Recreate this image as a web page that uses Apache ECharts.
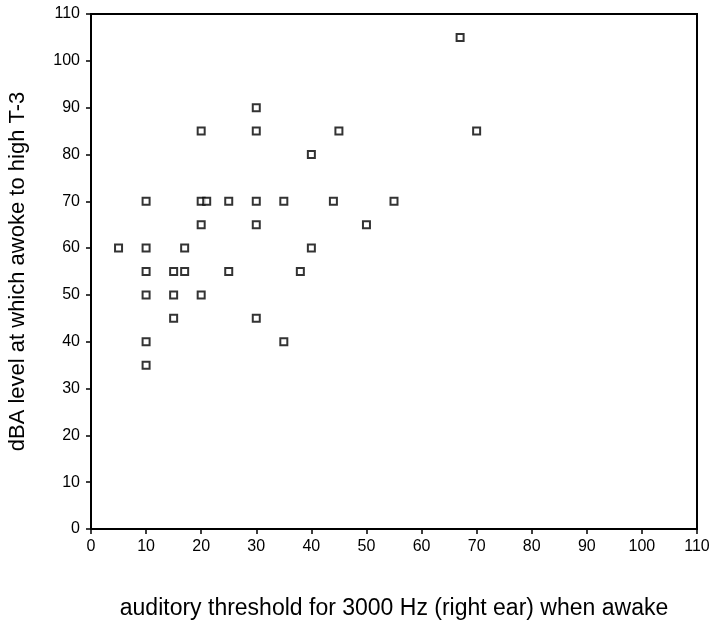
<!DOCTYPE html>
<html>
<head>
<meta charset="utf-8">
<script src="https://cdn.jsdelivr.net/npm/echarts@6/dist/echarts.min.js"></script>
<style>html,body{margin:0;padding:0;background:#fff;}#c{width:709px;height:626px;}</style>
</head>
<body>
<div id="c"></div>
<script>
var xValues = [30,20,30,45,40,67,70, 10,20,21,25,30,35,44,55, 20,30,50, 5,10,17,40, 10,15,17,25,38, 10,15,20, 15,30, 10,35, 10];
var yValues = [90,85,85,85,80,105,85, 70,70,70,70,70,70,70,70, 65,65,65, 60,60,60,60, 55,55,55,55,55, 50,50,50, 45,45, 40,40, 35];
var xTitle = 'auditory threshold for 3000 Hz (right ear) when awake';
var yTitle = 'dBA level at which awoke to high T-3';

var points = xValues.map(function (x, i) { return [x, yValues[i]]; });
var font = 'Liberation Sans, Arial, sans-serif';
var chart = echarts.init(document.getElementById('c'), null, {renderer: 'canvas'});
chart.setOption({
  animation: false,
  backgroundColor: '#fff',
  grid: {left: 91, right: 12, top: 14, bottom: 97, show: true, borderColor: '#000', borderWidth: 2,
         containLabel: false, outerBoundsMode: 'none'},
  xAxis: {
    type: 'value', min: 0, max: 110, interval: 10,
    name: xTitle, nameLocation: 'middle', nameGap: 68,
    nameTextStyle: {fontFamily: font, fontSize: 23, color: '#000'},
    axisLine: {show: true, onZero: false, lineStyle: {color: '#000', width: 2}},
    axisTick: {show: true, length: 5, lineStyle: {color: '#000', width: 1.5}},
    axisLabel: {fontFamily: font, fontSize: 16, color: '#000', margin: 10},
    splitLine: {show: false}
  },
  yAxis: {
    type: 'value', min: 0, max: 110, interval: 10,
    name: yTitle, nameLocation: 'middle', nameGap: 62,
    nameTextStyle: {fontFamily: font, fontSize: 22, color: '#000'},
    axisLine: {show: true, onZero: false, lineStyle: {color: '#000', width: 2}},
    axisTick: {show: true, length: 5, lineStyle: {color: '#000', width: 1.5}},
    axisLabel: {fontFamily: font, fontSize: 16, color: '#000', margin: 11},
    splitLine: {show: false}
  },
  series: [{
    type: 'scatter',
    data: points,
    symbol: 'rect',
    symbolSize: 7,
    itemStyle: {color: '#fff', borderColor: '#000', borderWidth: 2}
  }]
});
</script>
</body>
</html>
